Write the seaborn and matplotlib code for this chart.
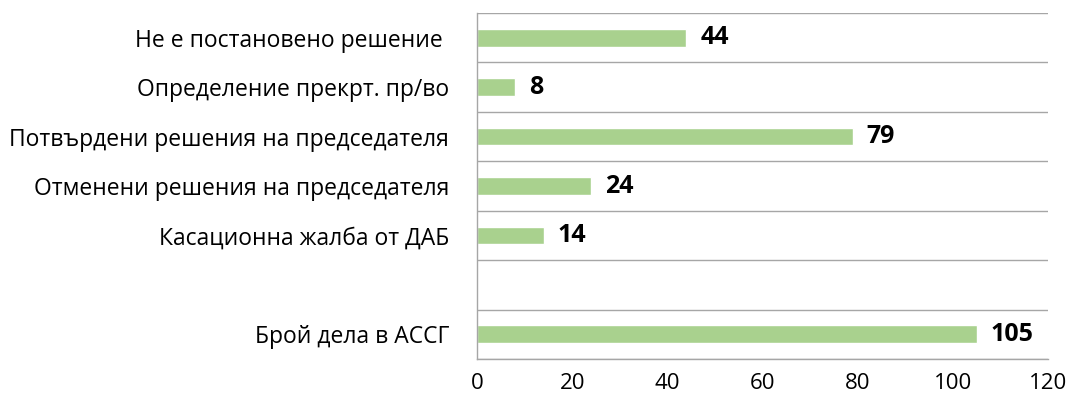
import pandas as pd
import seaborn as sns
import matplotlib.pyplot as plt
import numpy as np

# categories top to bottom, blank row kept as a gap
categories = ["Не е постановено решение ", "Определение прекрт. пр/во",
              "Потвърдени решения на председателя", "Отменени решения на председателя",
              "Касационна жалба от ДАБ", " ", "Брой дела в АССГ"]
labels = ["Не е постановено решение ", "Определение прекрт. пр/во",
          "Потвърдени решения на председателя", "Отменени решения на председателя",
          "Касационна жалба от ДАБ", "Брой дела в АССГ"]
values = [44, 8, 79, 24, 14, 105]

df = pd.DataFrame({"label": labels, "value": values})

sns.set_style("white")
plt.rcParams['font.family'] = ['Open Sans', 'DejaVu Sans']

fig = plt.figure(figsize=(10.71, 4.03), dpi=100)
ax = fig.add_axes([0.4454, 0.1092, 0.5331, 0.8585])

sns.barplot(data=df, x="value", y="label", order=categories, orient="h",
            color="#A9D18E", saturation=1, width=0.36, ax=ax)

for c in ax.containers:
    ax.bar_label(c, padding=10, fontsize=18, fontweight="bold", color="black")

ax.set_xlim(0, 120)
ax.set_ylim(6.5, -0.5)
ax.set_xticks(np.arange(0, 121, 20))
ax.set_yticks(np.arange(-0.5, 7, 1), minor=True)
ax.grid(which="minor", axis="y", color="#A6A6A6", linewidth=1)
ax.tick_params(axis="x", labelsize=16, length=0, pad=10, labelcolor="black")
ax.tick_params(axis="y", which="both", labelsize=16.5, length=0, pad=20, labelcolor="black")
ax.set_xlabel("")
ax.set_ylabel("")
for s in ["top", "right"]:
    ax.spines[s].set_visible(False)
for s in ["left", "bottom"]:
    ax.spines[s].set_color("#A6A6A6")
    ax.spines[s].set_linewidth(1)

fig.savefig("out.png", dpi=100)
